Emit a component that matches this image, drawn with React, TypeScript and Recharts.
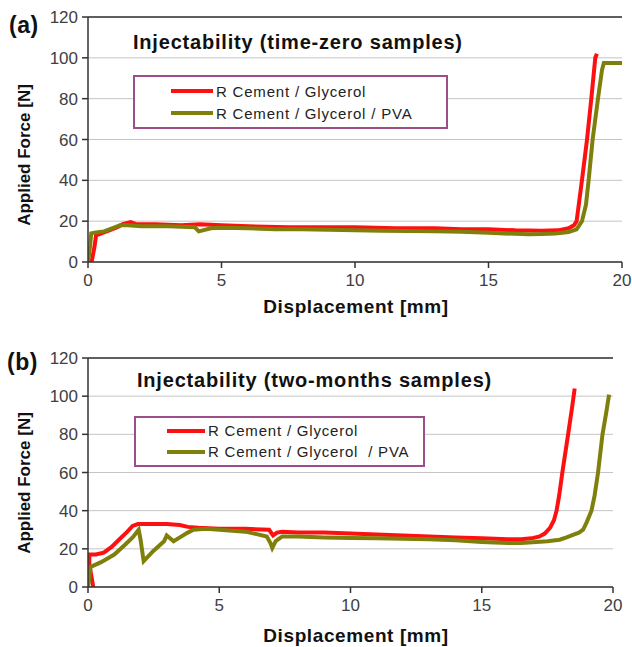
import React from "react"
import { LineChart, Line, XAxis, YAxis, CartesianGrid, ReferenceLine } from "recharts"

// axis ticks (both panels)
const xTicks = [0, 5, 10, 15, 20]
const yTicks = [0, 20, 40, 60, 80, 100, 120]

// (a) time-zero samples
const aGlyX = [0, 0.15, 0.25, 0.3, 0.5, 0.8, 1.1, 1.3, 1.6, 1.8, 2.5, 3.5, 4.2, 5, 6, 7.5, 9, 10, 11.5, 13, 14, 15, 16, 17, 17.6, 18, 18.2, 18.3, 18.5, 18.69, 18.85, 19.0, 19.06]
const aGlyF = [0, 1, 8, 13, 14, 15.5, 17, 18.5, 19.5, 18.5, 18.5, 18, 18.5, 18, 17.5, 17, 17, 17, 16.5, 16.5, 16, 16, 15.5, 15.3, 15.5, 16.5, 18, 20, 40, 60, 80, 100, 102]
const aPvaX = [0, 0.08, 0.12, 0.3, 0.6, 0.9, 1.2, 1.5, 2, 3, 4.0, 4.15, 4.3, 4.6, 5, 6, 7, 8, 9, 10, 11, 12, 13, 14, 15, 16, 16.5, 17, 17.5, 18, 18.3, 18.5, 18.65, 18.75, 18.9, 19.1, 19.25, 19.32, 20]
const aPvaF = [0, 8, 14, 14.5, 15, 16.5, 18, 18, 17.5, 17.5, 17, 15, 15.5, 16.5, 16.8, 16.5, 16, 16, 15.8, 15.5, 15.3, 15.2, 15, 14.8, 14.3, 13.8, 13.6, 13.7, 14, 14.7, 16, 20, 28, 40, 60, 80, 94, 97.5, 97.5]

// (b) two-months samples
const bGlyX = [0.2, 0.05, 0.05, 0.3, 0.6, 0.9, 1.2, 1.5, 1.7, 1.9, 2.3, 3.0, 3.5, 3.8, 4.2, 5, 6, 6.9, 7.05, 7.2, 7.4, 8, 9, 10, 11, 12, 13, 14, 15, 16, 16.5, 16.9, 17.2, 17.4, 17.6, 17.75, 17.85, 17.95, 18.07, 18.29, 18.45, 18.54]
const bGlyF = [0, 12, 17, 17, 18, 21, 25, 29, 32, 33, 33, 33, 32.5, 31.5, 31, 30.5, 30.5, 30, 27, 28.5, 29, 28.5, 28.5, 28, 27.5, 27, 26.5, 26, 25.5, 25, 25, 25.5, 26.5, 28, 31, 35, 40, 48, 60, 80, 95, 104]
const bPvaX = [0, 0.05, 0.1, 0.5, 1.0, 1.4, 1.7, 1.93, 2.0, 2.12, 2.5, 2.9, 3.0, 3.26, 3.5, 3.8, 4.02, 4.5, 5, 6, 6.81, 6.95, 7.02, 7.15, 7.4, 8, 9, 10, 11, 12, 13, 14, 15, 16, 16.5, 17.08, 17.5, 17.97, 18.23, 18.5, 18.7, 18.86, 19.0, 19.18, 19.3, 19.43, 19.6, 19.75, 19.85]
const bPvaF = [0, 5, 10.5, 13, 17, 22, 26, 30, 25, 13.5, 19, 24, 27, 24, 26, 28.5, 30, 30.5, 30, 29, 26.5, 23, 20.4, 24, 26.5, 26.5, 26, 25.7, 25.5, 25.3, 25, 24.5, 23.6, 23, 23, 23.6, 24, 24.8, 26, 27.5, 28.5, 30, 34, 40, 48, 60, 80, 92, 100.8]

const zip = (xs: number[], ys: number[]) => xs.map((x, i) => ({ x, f: ys[i] }))

const RED = "#ff1010"
const OLIVE = "#7f7f0c"
const FONT = "Liberation Sans, Arial, sans-serif"
const tickFont = { fontFamily: FONT, fontSize: 17, fill: "#404040" }

function LegendBox({ names, box }: { names: string[]; box: any }) {
  return (
    <div
      style={{
        position: "absolute",
        left: box.left,
        top: box.top,
        width: box.w,
        height: box.h,
        boxSizing: "border-box",
        border: "2px solid #9c4e8a",
        background: "#fff",
        paddingLeft: box.pad,
        paddingTop: box.padTop,
        fontFamily: FONT,
        fontSize: 15,
        letterSpacing: 0.8,
        color: "#222",
      }}
    >
      {names.map((n, i) => (
        <div key={n} style={{ display: "flex", alignItems: "center", height: box.row, whiteSpace: "pre" }}>
          <span style={{ display: "inline-block", width: box.line, height: 4, background: i === 0 ? RED : OLIVE, marginRight: 3 }} />
          {n}
        </div>
      ))}
    </div>
  )
}

function Panel(props: any) {
  const { top, height, margin, gly, pva, names, box, title, tag, titlePos, tagPos, yLabelY, xLabelY } = props
  return (
    <div style={{ position: "absolute", left: 0, top, width: 632, height }}>
      <LineChart width={632} height={height} margin={margin}>
        <CartesianGrid horizontal vertical={false} stroke="#c4c4c4" strokeWidth={1} />
        <XAxis
          type="number"
          dataKey="x"
          domain={[0, 20]}
          ticks={xTicks}
          allowDataOverflow
          stroke="#333"
          strokeWidth={1.5}
          tickSize={6}
          tickMargin={6}
          tick={tickFont}
          height={30}
        />
        <YAxis
          type="number"
          domain={[0, 120]}
          ticks={yTicks}
          allowDataOverflow
          stroke="#333"
          strokeWidth={1.5}
          tickSize={6}
          tickMargin={4}
          tick={tickFont}
          width={88}
        />
        <ReferenceLine y={120} stroke="#333" strokeWidth={1.5} />
        <Line data={gly} dataKey="f" type="linear" stroke={RED} strokeWidth={4} dot={false} isAnimationActive={false} />
        <Line data={pva} dataKey="f" type="linear" stroke={OLIVE} strokeWidth={4} dot={false} isAnimationActive={false} />
      </LineChart>
      <LegendBox names={names} box={box} />
      <div style={{ position: "absolute", left: tagPos[0], top: tagPos[1], transform: "translateY(-50%)", fontFamily: FONT, fontWeight: 700, fontSize: 23, letterSpacing: 0.5, color: "#111" }}>
        {tag}
      </div>
      <div style={{ position: "absolute", left: titlePos[0], top: titlePos[1], transform: "translateY(-50%)", fontFamily: FONT, fontWeight: 700, fontSize: 20, letterSpacing: 0.8, color: "#111", whiteSpace: "nowrap" }}>
        {title}
      </div>
      <div style={{ position: "absolute", left: 25, top: yLabelY, transform: "translate(-50%,-50%) rotate(-90deg)", fontFamily: FONT, fontWeight: 700, fontSize: 17, color: "#111", whiteSpace: "nowrap" }}>
        Applied Force [N]
      </div>
      <div style={{ position: "absolute", left: 356, top: xLabelY, transform: "translate(-50%,-50%)", fontFamily: FONT, fontWeight: 700, fontSize: 19, letterSpacing: 0.6, color: "#111", whiteSpace: "nowrap" }}>
        Displacement [mm]
      </div>
    </div>
  )
}

export default function App() {
  return (
    <div style={{ position: "absolute", left: 0, top: 0, width: 632, height: 647, background: "#fff" }}>
      <Panel
        top={0}
        height={320}
        margin={{ top: 17, right: 10, left: 0, bottom: 28 }}
        gly={zip(aGlyX, aGlyF)}
        pva={zip(aPvaX, aPvaF)}
        names={["R Cement / Glycerol", "R Cement / Glycerol / PVA"]}
        box={{ left: 133, top: 75, w: 315, h: 54, pad: 36, padTop: 3, row: 22, line: 42 }}
        title="Injectability (time-zero samples)"
        tag="(a)"
        titlePos={[133, 42]}
        tagPos={[9, 25]}
        yLabelY={155}
        xLabelY={307}
      />
      <Panel
        top={320}
        height={327}
        margin={{ top: 38, right: 19, left: 0, bottom: 30 }}
        gly={zip(bGlyX, bGlyF)}
        pva={zip(bPvaX, bPvaF)}
        names={["R Cement / Glycerol", "R Cement / Glycerol  / PVA"]}
        box={{ left: 134, top: 96, w: 291, h: 51, pad: 31, padTop: 2, row: 21, line: 38 }}
        title="Injectability (two-months samples)"
        tag="(b)"
        titlePos={[137, 60]}
        tagPos={[7, 42]}
        yLabelY={163}
        xLabelY={316}
      />
    </div>
  )
}
